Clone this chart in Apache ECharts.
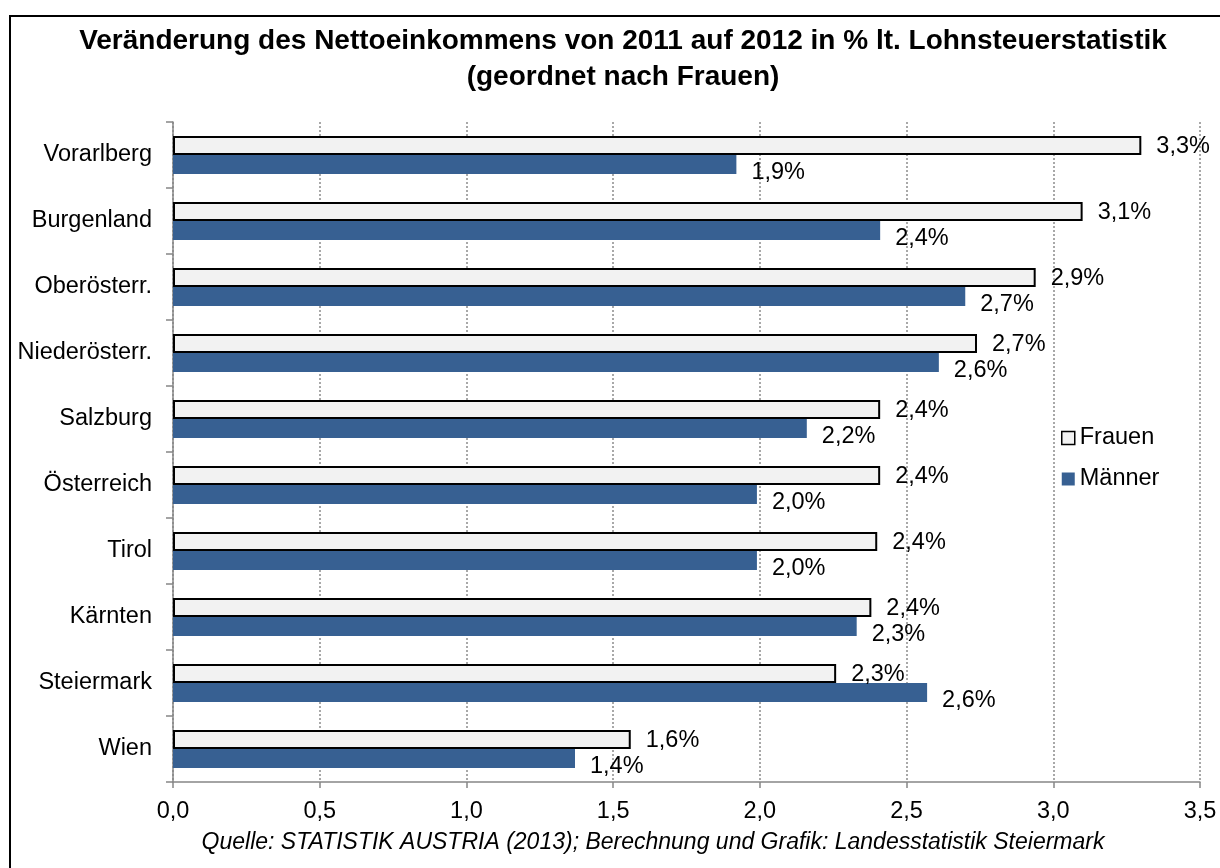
<!DOCTYPE html>
<html>
<head>
<meta charset="utf-8">
<script src="https://cdn.jsdelivr.net/npm/echarts@6/dist/echarts.min.js"></script>
<style>
html,body{margin:0;padding:0;background:#fff;}
#chart{width:1220px;height:868px;}
</style>
</head>
<body>
<div id="chart"></div>
<script>
// ---- data ----
const categories = ['Vorarlberg','Burgenland','Oberösterr.','Niederösterr.','Salzburg','Österreich','Tirol','Kärnten','Steiermark','Wien'];
const frauen = [3.30, 3.10, 2.94, 2.74, 2.41, 2.41, 2.40, 2.38, 2.26, 1.56];
const maenner = [1.92, 2.41, 2.70, 2.61, 2.16, 1.99, 1.99, 2.33, 2.57, 1.37];
const seriesNames = ['Frauen', 'Männer'];
const titleText = 'Veränderung des Nettoeinkommens von 2011 auf 2012 in % lt. Lohnsteuerstatistik\n(geordnet nach Frauen)';
const sourceText = 'Quelle: STATISTIK AUSTRIA (2013); Berechnung und Grafik: Landesstatistik Steiermark';

const FONT = "'Liberation Sans', Arial, sans-serif";
const fmtNum = v => v.toFixed(1).replace('.', ',');
const fmtPct = p => fmtNum(p.value) + '%';

const chart = echarts.init(document.getElementById('chart'), null, {renderer: 'canvas'});
chart.setOption({
  backgroundColor: '#ffffff',
  animation: false,
  textStyle: {fontFamily: FONT},
  title: {
    text: titleText,
    left: 623,
    top: 23,
    padding: 0,
    textAlign: 'center',
    textStyle: {fontFamily: FONT, fontSize: 28, fontWeight: 'bold', color: '#000', lineHeight: 36}
  },
  graphic: [
    {type: 'rect', shape: {x: 10, y: 16, width: 1400, height: 1000}, style: {fill: 'none', stroke: '#000', lineWidth: 2}, silent: true, z: 100},
    {type: 'text', x: 653, y: 843, style: {text: sourceText, font: "italic 23px 'Liberation Sans', Arial, sans-serif", fill: '#000', align: 'center', verticalAlign: 'middle'}}
  ],
  legend: {
    orient: 'vertical',
    left: 1061,
    top: 426,
    padding: 0,
    itemWidth: 13,
    itemHeight: 13,
    itemGap: 17,
    icon: 'rect',
    textStyle: {fontFamily: FONT, fontSize: 23.5, color: '#000'},
    data: [
      {name: seriesNames[0], itemStyle: {color: '#f2f2f2', borderColor: '#000', borderWidth: 1.5}},
      {name: seriesNames[1]}
    ]
  },
  grid: {left: 173, right: 20, top: 122, bottom: 86, containLabel: false},
  xAxis: {
    type: 'value',
    min: 0, max: 3.5, interval: 0.5,
    axisLine: {show: true, lineStyle: {color: '#868686', width: 1.5}},
    axisTick: {show: true, length: 6, lineStyle: {color: '#868686', width: 1.5}},
    axisLabel: {fontFamily: FONT, fontSize: 23.5, color: '#000', margin: 18, formatter: v => fmtNum(v)},
    splitLine: {show: true, lineStyle: {color: '#8c8c8c', width: 1.5, type: [2, 2]}}
  },
  yAxis: {
    type: 'category',
    inverse: true,
    data: categories,
    axisLine: {show: true, lineStyle: {color: '#868686', width: 1.5}},
    axisTick: {show: true, length: 7, alignWithLabel: false, lineStyle: {color: '#868686', width: 1.5}},
    axisLabel: {fontFamily: FONT, fontSize: 23.5, color: '#000', margin: 21},
    splitLine: {show: false}
  },
  series: [
    {
      name: seriesNames[0], type: 'bar', data: frauen,
      barWidth: 19, barGap: '0%',
      itemStyle: {color: '#f2f2f2', borderColor: '#000', borderWidth: 2},
      label: {show: true, position: 'right', distance: 15, offset: [0, 1.5], formatter: fmtPct,
              fontFamily: FONT, fontSize: 23.5, color: '#000'}
    },
    {
      name: seriesNames[1], type: 'bar', data: maenner,
      barWidth: 19, barGap: '0%',
      itemStyle: {color: '#376092'},
      label: {show: true, position: 'right', distance: 15, offset: [0, 8], formatter: fmtPct,
              fontFamily: FONT, fontSize: 23.5, color: '#000'}
    }
  ]
});
</script>
</body>
</html>
